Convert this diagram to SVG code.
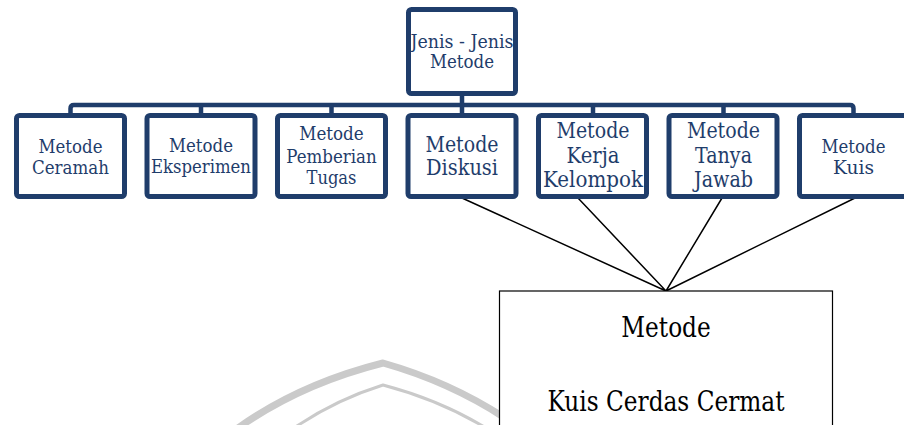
<svg xmlns="http://www.w3.org/2000/svg" width="904" height="425" viewBox="0 0 904 425">
<style>
.box{fill:#fff;stroke:#1f3d6b;stroke-width:5}
.bus{fill:none;stroke:#1f3d6b;stroke-width:4.5}
.t{fill:#1f3d6b;text-anchor:middle;font-family:'DejaVu Serif',serif}
.s21{font-size:19px}
.s24{font-size:22px}
.con{stroke:#000;stroke-width:1.5;fill:none}
.big{fill:#000;text-anchor:middle;font-size:27px;font-family:'DejaVu Serif',serif}
.wm{fill:none;stroke:#cacaca}
</style>
<rect width="904" height="425" fill="#fff"/>
<g id="watermark">
<path class="wm" stroke-width="7" d="M238,428 Q300,384 383,363 Q450,382 505,418"/>
<path class="wm" stroke-width="3" d="M294,428 Q335,400 383,385 Q440,400 486,428"/>
</g>
<g id="connectors">
<path class="bus" d="M70.5,114 V108.5 Q70.5,105 74,105 H850 Q853.5,105 853.5,108.5 V114"/>
<path class="bus" d="M201,105 V114 M331.5,105 V114 M462,96 V114 M593,105 V114 M723.5,105 V114"/>
<path class="con" d="M462,198 L666,291 M578,198 L666,291 M722,198 L666,291 M855,198 L666,291"/>
</g>
<g id="root">
<rect class="box" x="408.5" y="9.5" width="107" height="84" rx="3"/>
<text class="t s21" x="462" y="48" textLength="103" lengthAdjust="spacingAndGlyphs">Jenis - Jenis</text>
<text class="t s21" x="462" y="68" textLength="64" lengthAdjust="spacingAndGlyphs">Metode</text>
</g>
<g id="ceramah">
<rect class="box" x="16.5" y="115.5" width="108" height="81" rx="3"/>
<text class="t s21" x="70.5" y="152.7" textLength="64" lengthAdjust="spacingAndGlyphs">Metode</text>
<text class="t s21" x="70.5" y="174" textLength="77" lengthAdjust="spacingAndGlyphs">Ceramah</text>
</g>
<g id="eksperimen">
<rect class="box" x="147" y="115.5" width="108" height="81" rx="3"/>
<text class="t s21" x="201" y="151.7" textLength="64" lengthAdjust="spacingAndGlyphs">Metode</text>
<text class="t s21" x="201" y="173.3" textLength="100" lengthAdjust="spacingAndGlyphs">Eksperimen</text>
</g>
<g id="pemberian">
<rect class="box" x="277.5" y="115.5" width="108" height="81" rx="3"/>
<text class="t s21" x="331.5" y="140" textLength="64.5" lengthAdjust="spacingAndGlyphs">Metode</text>
<text class="t s21" x="331.5" y="162.7" textLength="90.5" lengthAdjust="spacingAndGlyphs">Pemberian</text>
<text class="t s21" x="331.5" y="184" textLength="50" lengthAdjust="spacingAndGlyphs">Tugas</text>
</g>
<g id="diskusi">
<rect class="box" x="408" y="115.5" width="108" height="81" rx="3"/>
<text class="t s24" x="462" y="151.7" textLength="73" lengthAdjust="spacingAndGlyphs">Metode</text>
<text class="t s24" x="462" y="175" textLength="72" lengthAdjust="spacingAndGlyphs">Diskusi</text>
</g>
<g id="kerja">
<rect class="box" x="538.5" y="115.5" width="108" height="81" rx="3"/>
<text class="t s24" x="593" y="138" textLength="73" lengthAdjust="spacingAndGlyphs">Metode</text>
<text class="t s24" x="593" y="162.7" textLength="53" lengthAdjust="spacingAndGlyphs">Kerja</text>
<text class="t s24" x="593" y="186.7" textLength="100" lengthAdjust="spacingAndGlyphs">Kelompok</text>
</g>
<g id="tanya">
<rect class="box" x="669" y="115.5" width="108" height="81" rx="3"/>
<text class="t s24" x="723.5" y="138" textLength="73" lengthAdjust="spacingAndGlyphs">Metode</text>
<text class="t s24" x="723.5" y="162.7" textLength="57" lengthAdjust="spacingAndGlyphs">Tanya</text>
<text class="t s24" x="723.5" y="186.7" textLength="59" lengthAdjust="spacingAndGlyphs">Jawab</text>
</g>
<g id="kuis">
<rect class="box" x="799.5" y="115.5" width="108" height="81" rx="3"/>
<text class="t s21" x="853.5" y="153" textLength="64" lengthAdjust="spacingAndGlyphs">Metode</text>
<text class="t s21" x="853.5" y="174" textLength="41" lengthAdjust="spacingAndGlyphs">Kuis</text>
</g>
<g id="cerdas">
<rect x="499.5" y="291" width="333" height="150" fill="#fff" stroke="#000" stroke-width="1.2"/>
<text class="big" x="666" y="337" textLength="89.5" lengthAdjust="spacingAndGlyphs">Metode</text>
<text class="big" x="666" y="411" textLength="237" lengthAdjust="spacingAndGlyphs">Kuis Cerdas Cermat</text>
</g>
</svg>
